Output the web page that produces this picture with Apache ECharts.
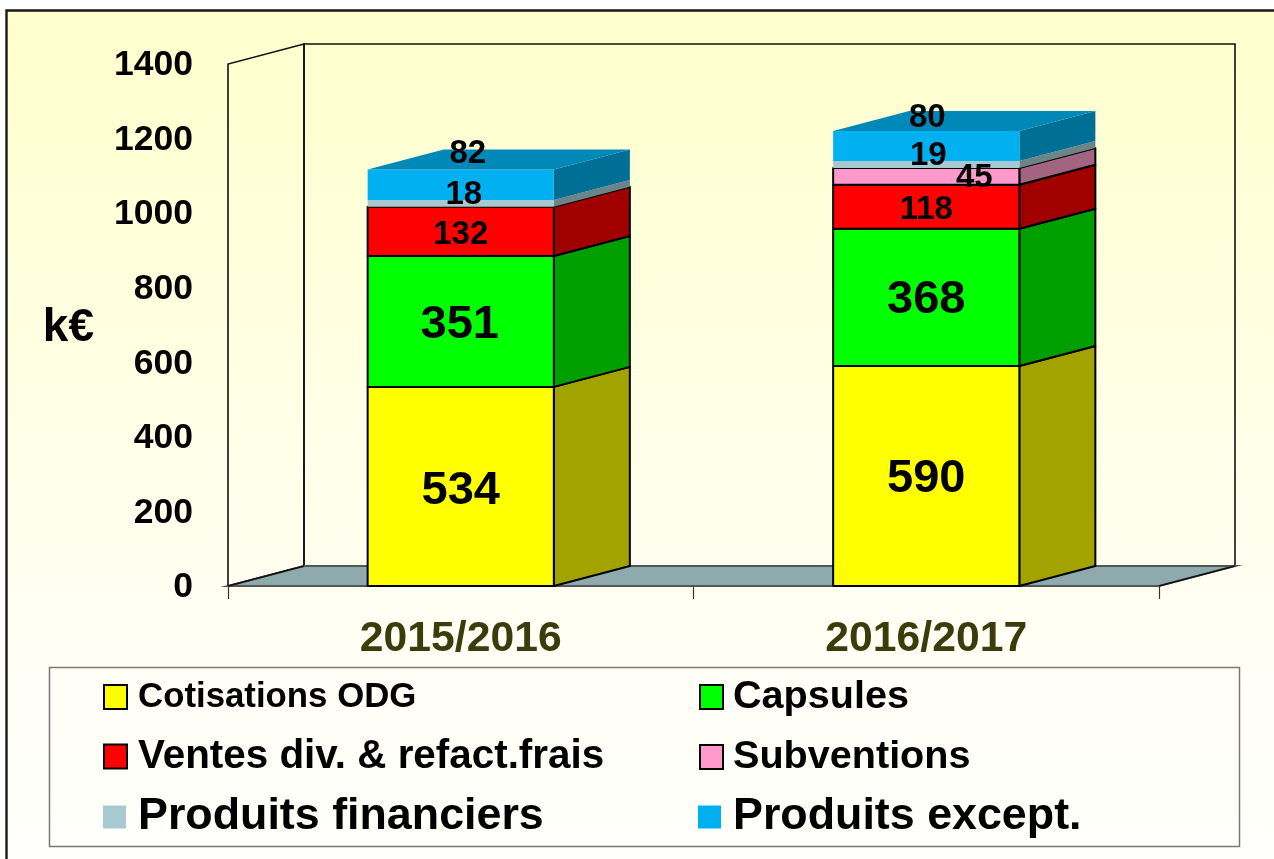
<!DOCTYPE html>
<html><head><meta charset="utf-8">
<style>html,body{margin:0;padding:0;background:#fff}#c{width:1274px;height:859px}</style>
<script src="https://cdn.jsdelivr.net/npm/echarts@6/dist/echarts.min.js"></script>
</head><body><div id="c"></div>
<script>
const categories = ['2015/2016', '2016/2017'];
const cotisations = [534, 590];
const capsules = [351, 368];
const ventes = [132, 118];
const subventions = [0, 45];
const financiers = [18, 19];
const excepts = [82, 80];
const yTicks = [0, 200, 400, 600, 800, 1000, 1200, 1400];

const FONT = '"Liberation Sans", Arial, sans-serif';
const DX = 76, DY = -20, BAR_RATIO = 0.4;

const segments = [
  { name: 'Cotisations ODG', values: cotisations, front: '#ffff00', side: '#a3a300', line: true, fs: 47, off: [[0, 5], [0, 3]] },
  { name: 'Capsules', values: capsules, front: '#00ff00', side: '#009f00', line: true, fs: 47, off: [[-1, 4], [0, 3]] },
  { name: 'Ventes div. & refact.frais', values: ventes, front: '#ff0000', side: '#a00000', line: true, fs: 33, off: [[0, 3], [0, 3]] },
  { name: 'Subventions', values: subventions, front: '#ff99cc', side: '#a36482', line: true, fs: 33, off: [[0, 0], [48, 1]] },
  { name: 'Produits financiers', values: financiers, front: '#a6cacf', side: '#6c8488', line: false, fs: 33, off: [[3, -9], [2, -9]] },
  { name: 'Produits except.', values: excepts, front: '#00b0f0', side: '#006f96', top: '#0088b8', line: false, fs: 33, off: [[7, -31], [1, -28]] }
];

const bases = categories.map(() => 0);
const segData = segments.map(s => s.values.map((v, i) => {
  const row = [i, bases[i], v];
  bases[i] += v;
  return row;
}));

function barRenderer(s) {
  return function (params, api) {
    const base = api.value(1), val = api.value(2);
    if (!val) return null;
    const c = api.coord([api.value(0), base]);
    const t = api.coord([api.value(0), base + val]);
    const w = api.size([1, 0])[0] * BAR_RATIO;
    const l = c[0] - w / 2, r = c[0] + w / 2, b = c[1], u = t[1];
    const st = s.line ? { stroke: '#000', lineWidth: 2, lineJoin: 'round' } : {};
    const ch = [
      { type: 'polygon', shape: { points: [[r, b], [r + DX, b + DY], [r + DX, u + DY], [r, u]] }, style: Object.assign({ fill: s.side }, st) },
      { type: 'rect', shape: { x: l, y: u, width: r - l, height: b - u }, style: Object.assign({ fill: s.front }, st) }
    ];
    if (s.top) ch.push({ type: 'polygon', shape: { points: [[l, u], [r, u], [r + DX, u + DY], [l + DX, u + DY]] }, style: { fill: s.top } });
    return { type: 'group', children: ch };
  };
}

const series = segments.map((s, k) => ({
  name: s.name, type: 'custom', coordinateSystem: 'cartesian2d', z: 3 + k * 0.01, silent: true,
  itemStyle: { color: s.front }, encode: { x: 0, y: 2 }, clip: false,
  renderItem: barRenderer(s), data: segData[k]
}));

// walls and floor
series.unshift({
  type: 'custom', coordinateSystem: 'cartesian2d', z: 1, silent: true, clip: false, encode: { x: 0, y: 1 },
  data: [[0, 0]],
  renderItem(params, api) {
    const p = params.coordSys;
    const o = api.coord([0, 0])[1];
    const top = api.coord([0, 1400])[1];
    const x0 = p.x, x1 = p.x + p.width;
    const line = { stroke: '#111', lineWidth: 1.6, fill: 'none' };
    return { type: 'group', children: [
      { type: 'polygon', shape: { points: [[x0, o], [x0 + DX, o + DY], [x0 + DX, top + DY], [x0, top]] }, style: line },
      { type: 'rect', shape: { x: x0 + DX, y: top + DY, width: p.width, height: o - top }, style: line },
      { type: 'polygon', shape: { points: [[x0, o], [x1, o], [x1 + DX, o + DY], [x0 + DX, o + DY]] }, style: { fill: '#8faaac', stroke: '#555', lineWidth: 2 } },
      { type: 'polyline', shape: { points: [[x1, o], [x1 + DX, o + DY]] }, style: line },
      { type: 'polyline', shape: { points: [[x0, o], [x0 + DX, o + DY]] }, style: line }
    ] };
  }
});

// value labels
const labelRows = [];
segments.forEach((s, k) => s.values.forEach((v, i) => { if (v) labelRows.push([i, segData[k][i][1] + v / 2, v, k]); }));
series.push({
  type: 'custom', coordinateSystem: 'cartesian2d', z: 5, silent: true, clip: false, encode: { x: 0, y: 1 },
  data: labelRows,
  renderItem(params, api) {
    const i = api.value(0), k = api.value(3);
    const pt = api.coord([i, api.value(1)]);
    const o = segments[k].off[i];
    return { type: 'text', style: { text: String(api.value(2)), x: pt[0] + o[0], y: pt[1] + o[1], fill: '#000',
      fontFamily: FONT, fontWeight: 'bold', fontSize: segments[k].fs, align: 'center', verticalAlign: 'middle' } };
  }
});

const legendSpec = [
  { k: 0, left: 103, w: 23, h: 24, pad: 6, cy: 696, fs: 34.8, line: true },
  { k: 1, left: 699, w: 23, h: 24, pad: 5, cy: 696, fs: 39.6, line: true },
  { k: 2, left: 103, w: 23, h: 24, pad: 6, cy: 756, fs: 40.4, line: true },
  { k: 3, left: 699, w: 23, h: 24, pad: 5, cy: 756, fs: 39.6, line: true },
  { k: 4, left: 103, w: 23, h: 23, pad: 7, cy: 816, fs: 44.8, line: false },
  { k: 5, left: 698, w: 23, h: 23, pad: 7, cy: 816, fs: 44.8, line: false }
];
const legends = legendSpec.map(l => ({
  show: true, orient: 'horizontal', left: l.left, top: l.cy - (Math.ceil(l.fs) + 6) / 2 + 4, padding: 0,
  itemWidth: l.w, itemHeight: l.h, itemGap: 0, selectedMode: false, icon: 'rect',
  data: [{ name: segments[l.k].name, icon: 'rect',
    itemStyle: { color: segments[l.k].front, borderColor: l.line ? '#000' : 'transparent', borderWidth: l.line ? 2 : 0 },
    textStyle: { fontFamily: FONT, fontWeight: 'bold', fontSize: l.fs, color: '#000', padding: [9, 0, 0, l.pad] } }]
}));

const chart = echarts.init(document.getElementById('c'), null, { renderer: 'canvas' });
chart.setOption({
  animation: false,
  backgroundColor: '#fff',
  graphic: [
    { type: 'rect', z: -10, silent: true, shape: { x: 6.5, y: 10.5, width: 1290, height: 870 },
      style: { stroke: '#1a1a1a', lineWidth: 2.4,
        fill: { type: 'linear', x: 0, y: 0, x2: 0, y2: 1, colorStops: [{ offset: 0, color: '#ffffcc' }, { offset: 0.75, color: '#fffff6' }, { offset: 1, color: '#fffffc' }] } } },
    { type: 'rect', z: 0, silent: true, shape: { x: 49.5, y: 667.5, width: 1190, height: 179 },
      style: { fill: 'none', stroke: '#777', lineWidth: 1.5 } }
  ],
  grid: { left: 228, right: 115, top: 64, bottom: 273, containLabel: false },
  xAxis: {
    type: 'category', data: categories, boundaryGap: true,
    axisLine: { show: true, lineStyle: { color: '#111', width: 1.5 } },
    axisTick: { show: true, length: 13, alignWithLabel: false, lineStyle: { color: '#333', width: 1.2 } },
    axisLabel: { fontFamily: FONT, fontWeight: 'bold', fontSize: 42.7, color: '#3b3b0c', margin: 32 }
  },
  yAxis: {
    type: 'value', min: yTicks[0], max: yTicks[yTicks.length - 1], interval: 200,
    name: '{n|k€}', nameLocation: 'middle', nameRotate: 0, nameGap: 134,
    nameTextStyle: { rich: { n: { fontFamily: FONT, fontWeight: 'bold', fontSize: 46, color: '#000', padding: [6, 0, 0, 0] } } },
    axisLine: { show: false }, axisTick: { show: false }, splitLine: { show: false },
    axisLabel: { margin: 35, formatter: v => '{t|' + v + '}',
      rich: { t: { fontFamily: FONT, fontWeight: 'bold', fontSize: 35.5, color: '#000', padding: [3, 0, 0, 0] } } }
  },
  legend: legends,
  series
});
</script></body></html>
